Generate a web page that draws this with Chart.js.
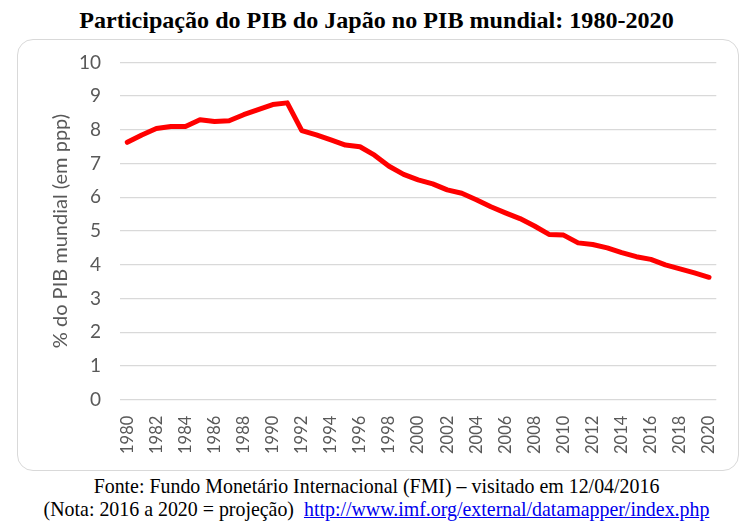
<!DOCTYPE html>
<html>
<head>
<meta charset="utf-8">
<script src="https://cdn.jsdelivr.net/npm/chart.js@4"></script>
<style>
  body { margin: 0; background: #fff; width: 753px; height: 532px; position: relative; overflow: hidden; }
  #title { position: absolute; top: 7px; left: 0; width: 753px; text-align: center;
    font-family: "Liberation Serif", "Times New Roman", serif; font-weight: bold; font-size: 24.1px; color: #000; }
  #box { position: absolute; left: 17px; top: 39px; width: 722px; height: 432px;
    border: 1.5px solid #d9d9d9; border-radius: 16px; box-sizing: border-box; }
  #wrap { position: absolute; left: 0; top: -8px; width: 719px; height: 437px; }
  #foot { position: absolute; top: 475px; left: 0; width: 753px; text-align: center;
    font-family: "Liberation Serif", "Times New Roman", serif; font-size: 19.9px; line-height: 23px; color: #000; }
  #foot a { color: #0000ee; }
</style>
</head>
<body>
<div id="title">Participação do PIB do Japão no PIB mundial: 1980-2020</div>
<div id="box"><div id="wrap"><canvas id="myChart"></canvas></div></div>
<div id="foot">Fonte: Fundo Monetário Internacional (FMI) – visitado em 12/04/2016<br>(Nota: 2016 a 2020 = projeção)&nbsp; <a href="#">http://www.imf.org/external/datamapper/index.php</a></div>
<script>
const years = []
for (let y = 1980; y <= 2020; y++) years.push(String(y))
const share = [
  7.63, 7.85, 8.04, 8.1, 8.1, 8.3, 8.25, 8.27, 8.45, 8.6,
  8.75, 8.8, 7.98, 7.85, 7.7, 7.55, 7.5, 7.25, 6.92, 6.68,
  6.52, 6.4, 6.22, 6.12, 5.93, 5.72, 5.54, 5.37, 5.15, 4.9,
  4.88, 4.65, 4.6, 4.5, 4.36, 4.24, 4.16, 4.0, 3.88, 3.76,
  3.63
]
const yTicks = [0, 1, 2, 3, 4, 5, 6, 7, 8, 9, 10]

const ctx = document.getElementById("myChart").getContext("2d")
const myChart = new Chart(ctx, {
  type: "line",
  data: {
    labels: years,
    datasets: [
      {
        label: "% do PIB mundial",
        data: share,
        borderColor: "#ff0000",
        borderWidth: 5,
        pointRadius: 0,
        tension: 0,
        borderJoinStyle: "round",
        borderCapStyle: "round",
      },
    ],
  },
  options: {
    responsive: true,
    maintainAspectRatio: false,
    animation: false,
    layout: { padding: { left: 27, right: 15, top: 0, bottom: 7 } },
    plugins: { legend: { display: false }, tooltip: { enabled: false } },
    scales: {
      x: {
        offset: true,
        grid: { display: false },
        border: { display: false },
        ticks: {
          autoSkip: false,
          maxRotation: 90,
          minRotation: 90,
          color: "#595959",
          font: { family: "Lato", size: 16.5 },
          padding: 8,
          callback: function (v, i) {
            return i % 2 === 0 ? years[i] : ""
          },
        },
      },
      y: {
        min: 0,
        max: 10,
        afterBuildTicks: function (axis) {
          axis.ticks = yTicks.map((v) => ({ value: v }))
        },
        afterFit: function (axis) {
          axis.width = 75 // fixed width so the plot starts where the reference does
        },
        grid: { color: "#d9d9d9", lineWidth: 1.3, drawTicks: false },
        border: { display: false },
        ticks: {
          color: "#595959",
          font: { family: "Lato", size: 19 },
          padding: 19,
        },
        title: {
          display: true,
          text: "% do PIB mundial (em ppp)",
          color: "#595959",
          font: { family: "Lato", size: 20 },
          padding: { top: 4, bottom: 0 },
        },
      },
    },
  },
})
</script>
</body>
</html>
